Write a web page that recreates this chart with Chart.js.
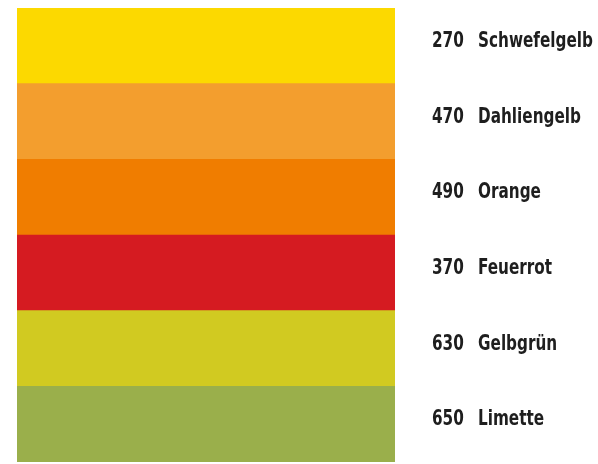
<!DOCTYPE html>
<html>
<head>
<meta charset="utf-8">
<script src="https://cdn.jsdelivr.net/npm/chart.js@4"></script>
<style>
html,body{margin:0;padding:0;background:#fff;}
#wrap{width:598px;height:464px;position:relative;}
</style>
</head>
<body>
<div id="wrap"><canvas id="c" width="598" height="464"></canvas></div>
<script>
const codes = ["270", "470", "490", "370", "630", "650"];
const names = ["Schwefelgelb", "Dahliengelb", "Orange", "Feuerrot", "Gelbgrün", "Limette"];
const values = [1, 1, 1, 1, 1, 1];
const colors = ["#FCD900", "#F39E2E", "#F07D00", "#D51B21", "#D1CA21", "#9AAF4B"];

const labelPlugin = {
  id: 'swatchLabels',
  afterDraw(chart) {
    const ctx = chart.ctx;
    const y = chart.scales.y;
    const right = chart.chartArea.right;
    ctx.save();
    ctx.fillStyle = '#1e1e1e';
    ctx.font = 'bold 21px "Liberation Sans Narrow", "DejaVu Sans Condensed", "DejaVu Sans", sans-serif';
    ctx.textBaseline = 'alphabetic';
    ctx.textAlign = 'left';
    const sx = 115 / ctx.measureText(names[0]).width;
    const draw = (t, x, py) => {
      ctx.save();
      ctx.translate(x, py);
      ctx.scale(sx, 1);
      ctx.fillText(t, 0, 0);
      ctx.restore();
    };
    names.forEach((n, i) => {
      const py = y.getPixelForValue(i) + 1;
      draw(codes[i], right + 37, py);
      draw(n, right + 83, py);
    });
    ctx.restore();
  }
};

new Chart(document.getElementById('c'), {
  type: 'bar',
  data: {
    labels: names,
    datasets: [{
      data: values,
      backgroundColor: colors,
      borderWidth: 0,
      barPercentage: 1,
      categoryPercentage: 1
    }]
  },
  options: {
    indexAxis: 'y',
    responsive: false,
    animation: false,
    devicePixelRatio: 1,
    layout: { padding: { left: 17, top: 8, right: 203, bottom: 2 } },
    plugins: { legend: { display: false }, tooltip: { enabled: false } },
    scales: {
      x: { display: false, min: 0, max: 1 },
      y: { display: false }
    }
  },
  plugins: [labelPlugin]
});
</script>
</body>
</html>
